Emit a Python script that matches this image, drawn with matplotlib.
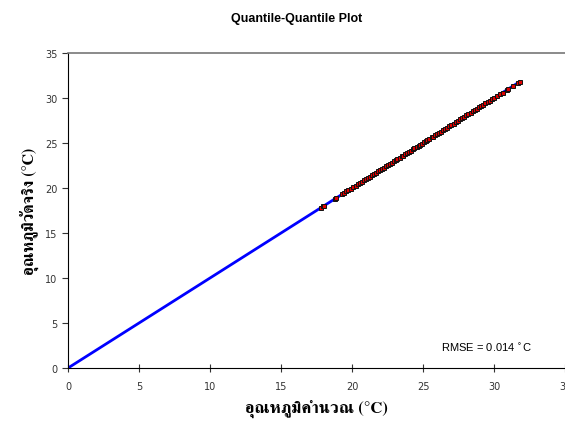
import matplotlib
matplotlib.use('Agg')
import matplotlib.pyplot as plt
from matplotlib import font_manager
from matplotlib.ft2font import FT2Font

# calculated vs measured temperature quantiles (deg C)
calc = [17.8, 17.95, 18.05, 18.8, 18.9, 19.3, 19.45, 19.6, 19.75, 19.9,
        20.1, 20.25, 20.4, 20.55, 20.7, 20.85, 21.0, 21.1, 21.25, 21.4,
        21.55, 21.7, 21.85, 22.0, 22.1, 22.25, 22.4, 22.55, 22.7, 22.8,
        22.95, 23.1, 23.2, 23.35, 23.5, 23.6, 23.75, 23.9, 24.0, 24.15,
        24.3, 24.4, 24.55, 24.7, 24.8, 24.9, 25.05, 25.2, 25.3, 25.45,
        25.6, 25.7, 25.85, 26.0, 26.1, 26.25, 26.4, 26.55, 26.7, 26.85,
        27.0, 27.15, 27.3, 27.45, 27.6, 27.75, 27.9, 28.05, 28.2, 28.35,
        28.5, 28.65, 28.8, 28.95, 29.1, 29.25, 29.4, 29.55, 29.7, 29.85,
        30.0, 30.2, 30.4, 30.6, 30.9, 31.0, 31.35, 31.7, 31.8]
obs = [17.82, 17.96, 18.03, 18.82, 18.92, 19.31, 19.47, 19.62, 19.76, 19.91,
       20.12, 20.26, 20.41, 20.57, 20.71, 20.86, 21.02, 21.12, 21.26, 21.41,
       21.56, 21.72, 21.86, 22.01, 22.12, 22.26, 22.41, 22.56, 22.72, 22.82,
       22.96, 23.12, 23.21, 23.36, 23.52, 23.61, 23.76, 23.92, 24.01, 24.16,
       24.32, 24.41, 24.56, 24.71, 24.82, 24.91, 25.07, 25.22, 25.32, 25.47,
       25.62, 25.72, 25.87, 26.02, 26.12, 26.27, 26.42, 26.56, 26.72, 26.87,
       27.02, 27.16, 27.32, 27.46, 27.62, 27.76, 27.92, 28.06, 28.21, 28.36,
       28.52, 28.66, 28.81, 28.96, 29.12, 29.26, 29.41, 29.56, 29.72, 29.86,
       30.02, 30.21, 30.42, 30.61, 30.92, 31.02, 31.36, 31.72, 31.82]
ticks = [0, 5, 10, 15, 20, 25, 30, 35]
rmse_text = 'RMSE = 0.014 $^{\\circ}$C'
xlabel = 'อุณหภูมิคำนวณ (°C)'
ylabel = 'อุณหภูมิวัดจริง (°C)'


def find_thai_font():
	found = []
	for f in font_manager.fontManager.ttflist:
		try:
			cmap = FT2Font(f.fname).get_charmap()
		except Exception:
			continue
		if 0x0E2D in cmap:
			found.append(f)
	if not found:
		return 'DejaVu Serif'
	found.sort(key=lambda f: (('serif' not in f.name.lower() and 'tlwg' not in f.name.lower()), f.weight != 'bold'))
	return found[0].name


thai = find_thai_font()

fig = plt.figure(figsize=(5.65, 4.27), dpi=100)
ax = fig.add_axes([0.1204, 0.1358, 0.8796, 0.7377])

top = max(calc)
ax.plot([0, top], [0, top], color='#0000ff', lw=2, zorder=2)
ax.plot(calc, obs, ls='none', marker='s', ms=2.6, mfc='#e00000', mec='#111111', mew=0.7, zorder=3)

ax.set_xlim(0, 35)
ax.set_ylim(0, 35)
ax.set_xticks(ticks)
ax.set_yticks(ticks)
ax.tick_params(axis='x', direction='inout', length=6, labelsize=7, colors='#333333', pad=6)
ax.tick_params(axis='y', direction='out', length=4, labelsize=7, colors='#333333')
ax.spines['right'].set_visible(False)
ax.spines['top'].set_color('#777777')
ax.spines['top'].set_linewidth(1.2)

ax.text(26.3, 1.9, rmse_text, fontsize=8, family=['Liberation Sans', 'DejaVu Sans'])
ax.set_xlabel(xlabel, fontsize=12, fontweight='bold', family=[thai, 'DejaVu Serif'], labelpad=6)
ax.set_ylabel(ylabel, fontsize=11.5, fontweight='bold', family=[thai, 'DejaVu Serif'], labelpad=4)
fig.suptitle('Quantile-Quantile Plot', x=0.525, y=0.97, fontsize=9, fontweight='bold', family=['Liberation Sans', 'DejaVu Sans'])

plt.savefig('out.png')
